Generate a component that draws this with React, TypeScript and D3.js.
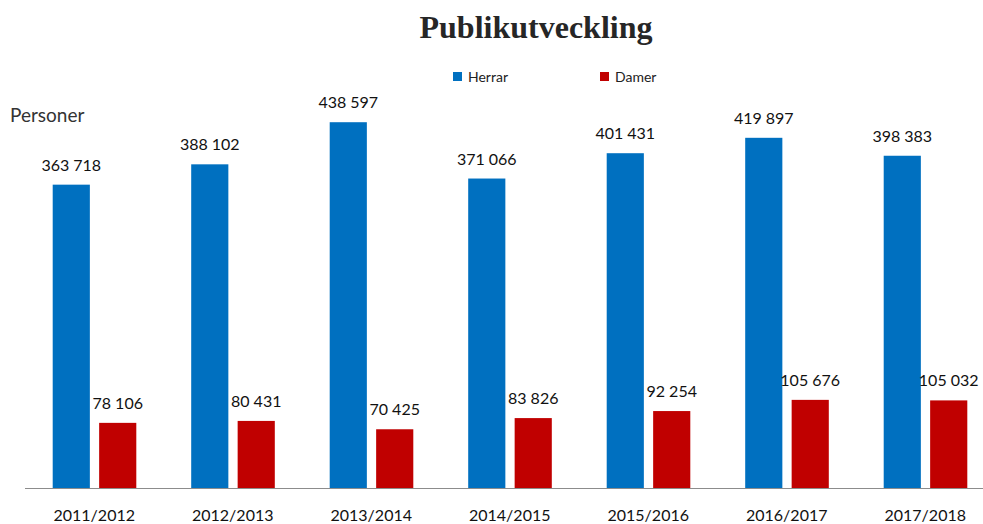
import React from "react";
import * as d3 from "d3";

const seasons = ["2011/2012", "2012/2013", "2013/2014", "2014/2015", "2015/2016", "2016/2017", "2017/2018"];
const herrar = [363718, 388102, 438597, 371066, 401431, 419897, 398383];
const damer = [78106, 80431, 70425, 83826, 92254, 105676, 105032];
const seriesNames = ["Herrar", "Damer"];
const seriesColors = ["#0070C0", "#C00000"];

const W = 983;
const H = 524;
const fmt = (v: number) => d3.format(",")(v).replace(/,/g, " ");

export default function App() {
  const x0 = d3.scaleBand<string>().domain(seasons).range([25, 994.5]).padding(0);
  const step = x0.bandwidth();
  const x1 = d3
    .scaleBand<string>()
    .domain(seriesNames)
    .range([step * 0.2, step * 0.8 + 0.5])
    .paddingInner(0.2)
    .paddingOuter(0);
  const y = d3.scaleLinear().domain([0, 500000]).range([488, 71]);
  const data = [herrar, damer];
  const font = "Lato, 'Noto Sans', sans-serif";

  return (
    <svg width={W} height={H} style={{ position: "absolute", left: 0, top: 0, background: "#fff" }}>
      <text x={536} y={38} textAnchor="middle" fontFamily="'Liberation Serif', serif" fontWeight="bold" fontSize={32} fill="#262626">
        Publikutveckling
      </text>
      {seriesNames.map((s, i) => (
        <g key={s} transform={`translate(${i === 0 ? 453 : 600},72)`}>
          <rect width={9} height={9} fill={seriesColors[i]} />
          <text x={15} y={9.5} fontFamily={font} fontSize={14} fill="#222">
            {s}
          </text>
        </g>
      ))}
      <text x={10} y={122} fontFamily={font} fontSize={19} fill="#333">
        Personer
      </text>
      {seasons.map((season, ci) => (
        <g key={season} transform={`translate(${x0(season)},0)`}>
          {seriesNames.map((s, si) => {
            const v = data[si][ci];
            const bx = x1(s)!;
            const bw = x1.bandwidth();
            return (
              <g key={s}>
                <rect x={bx} y={y(v)} width={bw} height={y(0) - y(v)} fill={seriesColors[si]} />
                <text x={bx + bw / 2} y={y(v) - 14} textAnchor="middle" fontFamily={font} fontSize={16} fill="#111" style={{ whiteSpace: "pre" }}>
                  {fmt(v)}
                </text>
              </g>
            );
          })}
          <text x={step / 2} y={521} textAnchor="middle" fontFamily={font} fontSize={16} fill="#111">
            {season}
          </text>
        </g>
      ))}
      <line x1={25} x2={W} y1={488.5} y2={488.5} stroke="#8c8c8c" strokeWidth={1} />
    </svg>
  );
}
